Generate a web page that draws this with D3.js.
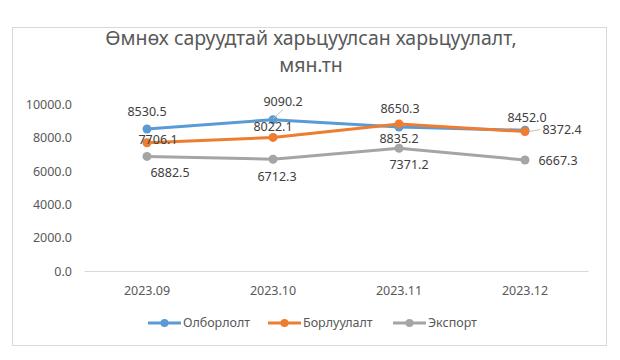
<!DOCTYPE html>
<html><head><meta charset="utf-8">
<script src="https://cdn.jsdelivr.net/npm/d3@7"></script>
<style>body{margin:0;background:#fff;} text{font-family:"Noto Sans","Open Sans",sans-serif;}</style>
</head><body>
<svg id="c" width="620" height="360"></svg>
<script>
const categories = ["2023.09","2023.10","2023.11","2023.12"];
const seriesNames = ["Олборлолт","Борлуулалт","Экспорт"];
const olborlolt = [8530.5, 9090.2, 8650.3, 8452.0];
const borluulalt = [7706.1, 8022.1, 8835.2, 8372.4];
const eksport = [6882.5, 6712.3, 7371.2, 6667.3];
const yTicks = [0, 2000, 4000, 6000, 8000, 10000];
const colors = ["#5B9BD5", "#ED7D31", "#A5A5A5"];
// label offsets (layout only) [dx, dy, leader]
const labelOffsets = [
  [[0,-17,0],[10,-18,1],[1,-18,0],[2,-13,0]],
  [[11,-3,0],[0,-11,0],[0,15,0],[37,-2,1]],
  [[23,16,0],[4,17,0],[10,16,0],[33,1,0]]
];
const series = [olborlolt, borluulalt, eksport];

const svg = d3.select("#c");
svg.append("rect").attr("x",12.5).attr("y",27.5).attr("width",594).attr("height",318)
  .attr("fill","#fff").attr("stroke","#d9d9d9");

svg.append("text").attr("x",311).attr("y",45).attr("text-anchor","middle")
  .attr("font-size",19.5).attr("fill","#595959").text("Өмнөх саруудтай харьцуулсан харьцуулалт,");
svg.append("text").attr("x",311).attr("y",72).attr("text-anchor","middle")
  .attr("font-size",19.5).attr("fill","#595959").text("мян.тн");

const x = d3.scaleBand().domain(categories).range([84, 588]);
const y = d3.scaleLinear().domain([0, 10000]).range([271, 104.5]);

const yAxis = svg.append("g").attr("transform","translate(84,0)")
  .call(d3.axisLeft(y).tickValues(yTicks).tickFormat(d3.format(".1f")).tickSize(0).tickPadding(12));
yAxis.select(".domain").remove();
yAxis.selectAll("text").attr("font-size",12.5).attr("fill","#595959").attr("font-family","Noto Sans");

const xAxis = svg.append("g").attr("transform","translate(0,271)")
  .call(d3.axisBottom(x).tickSize(0).tickPadding(15));
xAxis.select(".domain").attr("stroke","#d9d9d9");
xAxis.selectAll("text").attr("font-size",12.5).attr("fill","#595959").attr("font-family","Noto Sans");

const cx = c => x(c) + x.bandwidth()/2;
const line = d3.line().x((d,i)=>cx(categories[i])).y(d=>y(d));

series.forEach((s, k) => {
  svg.append("path").datum(s).attr("d", line).attr("fill","none")
    .attr("stroke", colors[k]).attr("stroke-width",3).attr("stroke-linejoin","round").attr("stroke-linecap","round");
  svg.selectAll(null).data(s).enter().append("circle")
    .attr("cx",(d,i)=>cx(categories[i])).attr("cy",d=>y(d)).attr("r",4.5).attr("fill",colors[k]);
});

series.forEach((s, k) => {
  s.forEach((v, i) => {
    const [dx, dy, leader] = labelOffsets[k][i];
    const px = cx(categories[i]), py = y(v);
    if (leader) {
      if (dx > 20) {
        svg.append("line").attr("x1",px+4).attr("y1",py).attr("x2",px+dx-22).attr("y2",py+dy)
          .attr("stroke","#bfbfbf").attr("stroke-width",1);
      } else {
        svg.append("line").attr("x1",px).attr("y1",py-1).attr("x2",px+dx).attr("y2",py+dy+8)
          .attr("stroke","#bfbfbf").attr("stroke-width",1);
      }
    }
    svg.append("text").attr("x",px+dx).attr("y",py+dy).attr("dy","0.35em")
      .attr("text-anchor","middle").attr("font-size",12.5).attr("fill","#404040")
      .text(d3.format(".1f")(v));
  });
});

const legendX = [148, 268, 393];
seriesNames.forEach((n, k) => {
  const g = svg.append("g").attr("transform",`translate(${legendX[k]},323)`);
  g.append("line").attr("x1",0).attr("x2",33).attr("y1",0).attr("y2",0)
    .attr("stroke",colors[k]).attr("stroke-width",3);
  g.append("circle").attr("cx",16.5).attr("cy",0).attr("r",4).attr("fill",colors[k]);
  g.append("text").attr("x",35).attr("y",0).attr("dy","0.35em").attr("font-size",12.5)
    .attr("fill","#595959").text(n);
});
</script>
</body></html>
